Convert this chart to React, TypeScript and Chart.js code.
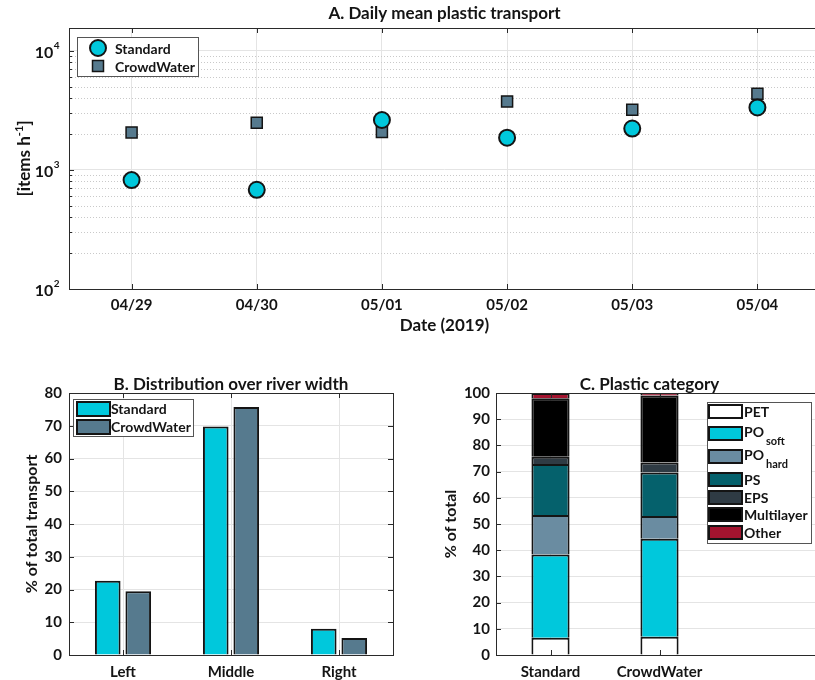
import React, { useEffect, useRef } from 'react';
import { Chart, registerables } from 'chart.js';

Chart.register(...registerables);

const FONT = 'Lato, "Open Sans", "DejaVu Sans", sans-serif';
const INK = '#141414';
const AXIS = '#2a2a2a';
const GRID = '#e4e4e4';
const MINOR_GRID = '#c9c9c9';
const CYAN = '#00c8dc';
const SLATE = '#567a8e';

Chart.defaults.font.family = FONT;
Chart.defaults.color = INK;

// ---------- Panel A: daily mean plastic transport ----------
const dates = ['04/29', '04/30', '05/01', '05/02', '05/03', '05/04'];
const dailyStandard = [820, 680, 2620, 1860, 2220, 3340];
const dailyCrowdWater = [2060, 2480, 2080, 3750, 3190, 4350];
const logMajorTicks = [100, 1000, 10000];
const logMinorFactors = [2, 3, 4, 5, 6, 7, 8, 9];
const dailyAxisMin = 100;
const dailyAxisMax = 15500;

// ---------- Panel B: distribution over river width ----------
const riverSections = ['Left', 'Middle', 'Right'];
const sectionStandard = [22.7, 69.8, 8.0];
const sectionCrowdWater = [19.5, 75.7, 5.2];
const sectionTicks = [0, 10, 20, 30, 40, 50, 60, 70, 80];

// ---------- Panel C: plastic category ----------
const methods = ['Standard', 'CrowdWater'];
const plasticNames = ['PET', 'PO', 'PO', 'PS', 'EPS', 'Multilayer', 'Other'];
const plasticSubs = ['', 'soft', 'hard', '', '', '', ''];
const plasticColors = ['#ffffff', CYAN, '#6a8ca1', '#05616c', '#2f3b44', '#000000', '#a3142f'];
const sharePET = [6.6, 7.0];
const sharePOsoft = [31.8, 37.4];
const sharePOhard = [15.0, 8.7];
const sharePS = [19.5, 16.6];
const shareEPS = [2.8, 3.8];
const shareMultilayer = [22.3, 25.5];
const shareOther = [2.0, 1.0];
const plasticShares = [sharePET, sharePOsoft, sharePOhard, sharePS, shareEPS, shareMultilayer, shareOther];

const font = (size: number) => ({ family: FONT, size, weight: 'bold' as const });
const cssFont = (size: number) => `bold ${size}px ${FONT}`;

function framePlugin(opts: { xCount?: number; yMinor?: number[]; tickLen?: number }) {
  return {
    id: 'frame',
    afterDatasetsDraw(chart: any) {
      const { ctx, chartArea: a } = chart;
      const xs = chart.scales.x;
      const ys = chart.scales.y;
      const L = opts.tickLen ?? 5;
      ctx.save();
      ctx.strokeStyle = AXIS;
      ctx.lineWidth = 1;
      ctx.beginPath();
      xs.ticks.forEach((_t: any, i: number) => {
        if (opts.xCount !== undefined && i >= opts.xCount) return;
        const px = Math.round(xs.getPixelForTick(i)) + 0.5;
        ctx.moveTo(px, a.bottom);
        ctx.lineTo(px, a.bottom - L);
        ctx.moveTo(px, a.top);
        ctx.lineTo(px, a.top + L);
      });
      ys.ticks.forEach((_t: any, i: number) => {
        const py = Math.round(ys.getPixelForTick(i)) + 0.5;
        ctx.moveTo(a.left, py);
        ctx.lineTo(a.left + L, py);
        ctx.moveTo(a.right, py);
        ctx.lineTo(a.right - L, py);
      });
      (opts.yMinor || []).forEach((v) => {
        const py = Math.round(ys.getPixelForValue(v)) + 0.5;
        ctx.moveTo(a.left, py);
        ctx.lineTo(a.left + 3, py);
        ctx.moveTo(a.right, py);
        ctx.lineTo(a.right - 3, py);
      });
      ctx.stroke();
      ctx.strokeRect(
        Math.round(a.left) + 0.5,
        Math.round(a.top) + 0.5,
        Math.round(a.right - a.left),
        Math.round(a.bottom - a.top)
      );
      ctx.restore();
    },
  };
}

const panelTitlePlugin = {
  id: 'panelTitle',
  afterDraw(chart: any, _args: any, opts: any) {
    const { ctx, chartArea: a } = chart;
    ctx.save();
    ctx.font = cssFont(opts.size || 16);
    ctx.fillStyle = INK;
    ctx.textAlign = 'center';
    ctx.textBaseline = 'middle';
    ctx.fillText(opts.text, (a.left + a.right) / 2 + (opts.dx || 0), a.top + opts.dy);
    ctx.restore();
  },
};

// ---------- Panel A specific plugins ----------
const minorValues = logMajorTicks
  .flatMap((d) => logMinorFactors.map((f) => d * f))
  .filter((v) => v < dailyAxisMax);

const minorGridPlugin = {
  id: 'minorGrid',
  beforeDatasetsDraw(chart: any) {
    const { ctx, chartArea: a } = chart;
    const ys = chart.scales.y;
    ctx.save();
    ctx.strokeStyle = MINOR_GRID;
    ctx.lineWidth = 1;
    ctx.setLineDash([1, 2]);
    ctx.beginPath();
    minorValues.forEach((v) => {
      const py = Math.round(ys.getPixelForValue(v)) + 0.5;
      ctx.moveTo(a.left, py);
      ctx.lineTo(a.right, py);
    });
    ctx.stroke();
    ctx.restore();
  },
};

const logLabelsPlugin = {
  id: 'logLabels',
  afterDraw(chart: any) {
    const { ctx, chartArea: a } = chart;
    const ys = chart.scales.y;
    ctx.save();
    ctx.fillStyle = INK;
    ctx.textBaseline = 'middle';
    ctx.textAlign = 'left';
    ys.ticks.forEach((t: any) => {
      const py = ys.getPixelForValue(t.value);
      const exp = String(Math.round(Math.log10(t.value)));
      ctx.font = cssFont(16);
      const baseW = ctx.measureText('10').width;
      ctx.font = cssFont(10);
      const expW = ctx.measureText(exp).width;
      const x0 = a.left - 10 - expW - baseW;
      ctx.font = cssFont(16);
      ctx.fillText('10', x0, py + 2);
      ctx.font = cssFont(10);
      ctx.fillText(exp, x0 + baseW + 0.5, py - 5);
    });
    // y-axis title with superscript
    const parts: [string, number, number][] = [
      ['[items h', 17, 0],
      ['-1', 11, -6],
      [']', 17, 0],
    ];
    let total = 0;
    parts.forEach(([s, size]) => {
      ctx.font = cssFont(size);
      total += ctx.measureText(s).width;
    });
    ctx.translate(a.left - 44, (a.top + a.bottom) / 2);
    ctx.rotate(-Math.PI / 2);
    let x = -total / 2;
    parts.forEach(([s, size, dy]) => {
      ctx.font = cssFont(size);
      ctx.fillText(s, x, dy);
      x += ctx.measureText(s).width;
    });
    ctx.restore();
  },
};

const legendAPlugin = {
  id: 'legendA',
  afterDraw(chart: any) {
    const { ctx, chartArea: a } = chart;
    const x = a.left + 8;
    const y = a.top + 9;
    const w = 121;
    const h = 39;
    ctx.save();
    ctx.fillStyle = '#ffffff';
    ctx.fillRect(x, y, w, h);
    ctx.strokeStyle = '#555555';
    ctx.lineWidth = 1;
    ctx.strokeRect(x + 0.5, y + 0.5, w, h);
    chart.data.datasets.forEach((ds: any, i: number) => {
      const cx = x + 21;
      const cy = y + 11 + i * 18;
      ctx.fillStyle = ds.backgroundColor;
      ctx.strokeStyle = ds.borderColor;
      ctx.lineWidth = ds.borderWidth;
      ctx.beginPath();
      if (ds.pointStyle === 'circle') ctx.arc(cx, cy, 8, 0, Math.PI * 2);
      else ctx.rect(cx - 5.5, cy - 5.5, 11, 11);
      ctx.fill();
      ctx.stroke();
      ctx.fillStyle = INK;
      ctx.font = cssFont(14);
      ctx.textBaseline = 'middle';
      ctx.textAlign = 'left';
      ctx.fillText(ds.label, x + 38, cy + 1);
    });
    ctx.restore();
  },
};

// ---------- Panel B legend ----------
const legendBPlugin = {
  id: 'legendB',
  afterDraw(chart: any) {
    const { ctx, chartArea: a } = chart;
    const x = a.left + 4;
    const y = a.top + 6;
    const w = 120;
    const h = 37;
    ctx.save();
    ctx.fillStyle = '#ffffff';
    ctx.fillRect(x, y, w, h);
    ctx.strokeStyle = '#555555';
    ctx.lineWidth = 1;
    ctx.strokeRect(x + 0.5, y + 0.5, w, h);
    chart.data.datasets.forEach((ds: any, i: number) => {
      const sy = y + 3 + i * 18;
      ctx.fillStyle = ds.backgroundColor;
      ctx.strokeStyle = INK;
      ctx.lineWidth = 2;
      ctx.fillRect(x + 4, sy, 33, 14);
      ctx.strokeRect(x + 4, sy, 33, 14);
      ctx.fillStyle = INK;
      ctx.font = cssFont(14);
      ctx.textBaseline = 'middle';
      ctx.textAlign = 'left';
      ctx.fillText(ds.label, x + 38, sy + 7.5);
    });
    ctx.restore();
  },
};

// ---------- Panel C legend ----------
const legendCPlugin = {
  id: 'legendC',
  afterDraw(chart: any) {
    const { ctx, chartArea: a } = chart;
    const x = a.left + 211;
    const y = a.top + 9;
    const w = 104;
    const h = 141;
    const rowTops = [3, 25, 48, 71, 89, 106, 124];
    ctx.save();
    ctx.fillStyle = '#ffffff';
    ctx.fillRect(x, y, w, h);
    ctx.strokeStyle = '#555555';
    ctx.lineWidth = 1;
    ctx.strokeRect(x + 0.5, y + 0.5, w, h);
    chart.data.datasets.forEach((ds: any, i: number) => {
      const sy = y + rowTops[i];
      ctx.fillStyle = ds.backgroundColor;
      ctx.strokeStyle = INK;
      ctx.lineWidth = 2;
      ctx.fillRect(x + 2, sy, 33, 13);
      ctx.strokeRect(x + 2, sy, 33, 13);
      ctx.fillStyle = INK;
      ctx.textBaseline = 'middle';
      ctx.textAlign = 'left';
      const sub = plasticSubs[i];
      ctx.font = cssFont(14);
      const main = plasticNames[i];
      if (sub) {
        ctx.fillText(main, x + 37, sy + 5);
        const mw = ctx.measureText(main).width;
        ctx.font = cssFont(11);
        ctx.fillText(sub, x + 37 + mw + 2, sy + 14);
      } else {
        ctx.fillText(main, x + 37, sy + 7);
      }
    });
    ctx.restore();
  },
};

function ChartCanvas({ make, left, top, width, height }: any) {
  const ref = useRef<HTMLCanvasElement | null>(null);
  useEffect(() => {
    if (!ref.current) return;
    const chart = new Chart(ref.current, make());
    return () => chart.destroy();
  }, []);
  return (
    <canvas
      ref={ref}
      width={width}
      height={height}
      style={{ position: 'absolute', left, top, width, height }}
    />
  );
}

const makeA = (): any => ({
  type: 'scatter',
  data: {
    datasets: [
      {
        label: 'Standard',
        data: dailyStandard.map((v, i) => ({ x: i, y: v })),
        pointStyle: 'circle',
        pointRadius: 8,
        pointHoverRadius: 8,
        backgroundColor: CYAN,
        borderColor: INK,
        borderWidth: 2,
      },
      {
        label: 'CrowdWater',
        data: dailyCrowdWater.map((v, i) => ({ x: i, y: v })),
        pointStyle: 'rect',
        pointRadius: 7.8,
        pointHoverRadius: 7.8,
        backgroundColor: SLATE,
        borderColor: INK,
        borderWidth: 1.5,
      },
    ],
  },
  options: {
    responsive: false,
    animation: false,
    layout: { padding: { left: 0, right: 10, top: 28, bottom: 0 } },
    plugins: {
      legend: { display: false },
      tooltip: { enabled: false },
      panelTitle: { text: 'A. Daily mean plastic transport', dy: -14, size: 17 },
    },
    scales: {
      x: {
        type: 'linear',
        min: -0.5,
        max: dates.length - 0.5,
        afterBuildTicks: (s: any) => {
          s.ticks = dates.map((_d, i) => ({ value: i }));
        },
        afterFit: (s: any) => {
          s.height = 56;
        },
        ticks: {
          callback: (v: any) => dates[v] ?? '',
          font: font(15),
          color: INK,
          padding: 7,
          maxRotation: 0,
          autoSkip: false,
        },
        grid: { color: GRID, drawTicks: false },
        border: { display: false },
        title: {
          display: true,
          text: 'Date (2019)',
          font: font(17),
          color: INK,
          padding: { top: 0, bottom: 9 },
        },
      },
      y: {
        type: 'logarithmic',
        min: dailyAxisMin,
        max: dailyAxisMax,
        afterBuildTicks: (s: any) => {
          s.ticks = logMajorTicks.map((v) => ({ value: v }));
        },
        afterFit: (s: any) => {
          s.width = 69;
        },
        ticks: { display: false },
        grid: { color: GRID, drawTicks: false },
        border: { display: false },
      },
    },
  },
  plugins: [minorGridPlugin, framePlugin({ yMinor: minorValues, tickLen: 5 }), logLabelsPlugin, legendAPlugin, panelTitlePlugin],
});

const makeB = (): any => ({
  type: 'bar',
  data: {
    labels: riverSections,
    datasets: [
      {
        label: 'Standard',
        data: sectionStandard,
        backgroundColor: CYAN,
        borderColor: INK,
        borderWidth: 2,
        borderSkipped: 'start',
        barPercentage: 0.84,
        categoryPercentage: 0.565,
      },
      {
        label: 'CrowdWater',
        data: sectionCrowdWater,
        backgroundColor: SLATE,
        borderColor: INK,
        borderWidth: 2,
        borderSkipped: 'start',
        barPercentage: 0.84,
        categoryPercentage: 0.565,
      },
    ],
  },
  options: {
    responsive: false,
    animation: false,
    layout: { padding: { left: 0, right: 17, top: 33, bottom: 0 } },
    plugins: {
      legend: { display: false },
      tooltip: { enabled: false },
      panelTitle: { text: 'B. Distribution over river width', dy: -8, size: 17 },
    },
    scales: {
      x: {
        afterFit: (s: any) => {
          s.height = 25;
        },
        ticks: { font: font(15), color: INK, padding: 8, maxRotation: 0 },
        grid: { color: GRID, offset: false, drawTicks: false },
        border: { display: false },
      },
      y: {
        min: 0,
        max: 80,
        afterBuildTicks: (s: any) => {
          s.ticks = sectionTicks.map((v) => ({ value: v }));
        },
        afterFit: (s: any) => {
          s.width = 69;
        },
        ticks: { font: font(15), color: INK, padding: 7 },
        grid: { color: GRID, drawTicks: false },
        border: { display: false },
        title: {
          display: true,
          text: '% of total transport',
          font: font(16),
          color: INK,
          padding: { top: 22, bottom: 0 },
        },
      },
    },
  },
  plugins: [framePlugin({ tickLen: 5 }), legendBPlugin, panelTitlePlugin],
});

const makeC = (): any => ({
  type: 'bar',
  data: {
    labels: [...methods, ''],
    datasets: plasticNames.map((name, i) => ({
      label: plasticSubs[i] ? `${name} ${plasticSubs[i]}` : name,
      data: plasticShares[i],
      backgroundColor: plasticColors[i],
      borderColor: INK,
      borderWidth: 2,
      borderSkipped: 'start',
      barPercentage: 0.35,
      categoryPercentage: 1,
    })),
  },
  options: {
    responsive: false,
    animation: false,
    layout: { padding: { left: 0, right: 7, top: 33, bottom: 0 } },
    plugins: {
      legend: { display: false },
      tooltip: { enabled: false },
      panelTitle: { text: 'C. Plastic category', dy: -8, dx: -10, size: 17 },
    },
    scales: {
      x: {
        stacked: true,
        afterFit: (s: any) => {
          s.height = 25;
        },
        ticks: { font: font(15), color: INK, padding: 8, maxRotation: 0, autoSkip: false },
        grid: {
          color: (c: any) => (c.index < methods.length ? GRID : 'rgba(0,0,0,0)'),
          offset: false,
          drawTicks: false,
        },
        border: { display: false },
      },
      y: {
        stacked: true,
        min: 0,
        max: 100,
        afterFit: (s: any) => {
          s.width = 86;
        },
        ticks: { stepSize: 10, font: font(15), color: INK, padding: 6 },
        grid: { color: GRID, drawTicks: false },
        border: { display: false },
        title: {
          display: true,
          text: '% of total',
          font: font(16),
          color: INK,
          padding: { top: 31, bottom: 0 },
        },
      },
    },
  },
  plugins: [framePlugin({ tickLen: 5, xCount: methods.length }), legendCPlugin, panelTitlePlugin],
});

export default function App() {
  return (
    <div
      style={{
        position: 'fixed',
        left: 0,
        top: 0,
        width: 815,
        height: 680,
        overflow: 'hidden',
        background: '#ffffff',
      }}
    >
      <ChartCanvas make={makeA} left={0} top={0} width={830} height={345} />
      <ChartCanvas make={makeB} left={0} top={360} width={410} height={320} />
      <ChartCanvas make={makeC} left={410} top={360} width={420} height={320} />
    </div>
  );
}
